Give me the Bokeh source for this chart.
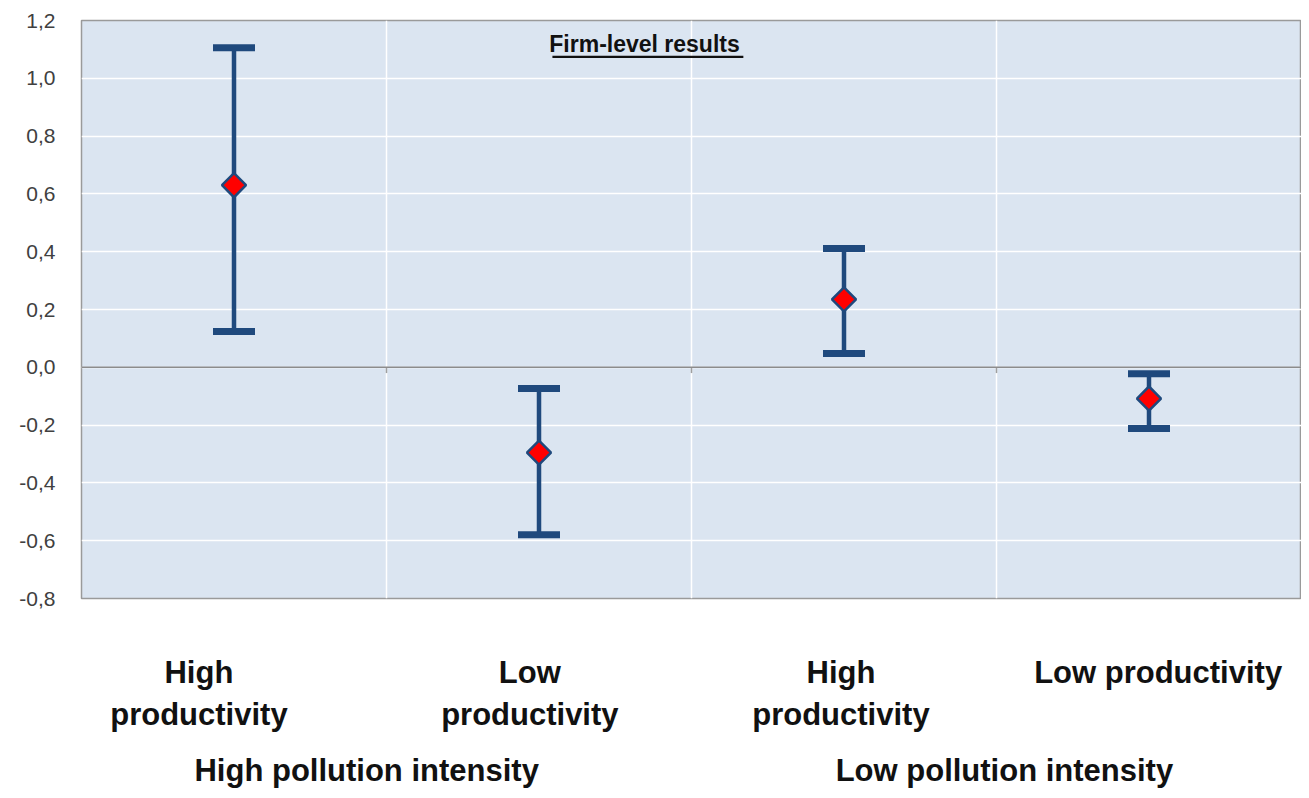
from bokeh.plotting import figure
from bokeh.models import (ColumnDataSource, FixedTicker, CustomJSTickFormatter, Span,
                          Label, BoxAnnotation, LinearAxis)
from bokeh.embed import file_html
from bokeh.resources import INLINE
import math

# ---- data ----
categories = ["High\nproductivity", "Low\nproductivity", "High\nproductivity", "Low productivity"]
groups = ["High pollution intensity", "Low pollution intensity"]
estimates = [0.63, -0.295, 0.235, -0.108]
lower = [0.124, -0.579, 0.048, -0.212]
upper = [1.106, -0.073, 0.411, -0.022]
y_ticks = [-0.8, -0.6, -0.4, -0.2, 0.0, 0.2, 0.4, 0.6, 0.8, 1.0, 1.2]
title_text = "Firm-level results"

# ---- styling ----
BLUE = "#1f497d"
BG = "#dbe5f1"
xs = [i + 0.5 for i in range(len(categories))]

p = figure(width=1301, height=790, x_range=(0, 4), y_range=(-0.8, 1.2),
           output_backend="svg", toolbar_location=None,
           min_border_left=81, min_border_right=0, min_border_top=20, min_border_bottom=0)
p.background_fill_color = BG
p.border_fill_color = "white"
p.outline_line_color = "#9a9a9a"
p.outline_line_width = 1.5

# y axis
p.yaxis.ticker = FixedTicker(ticks=y_ticks)
p.yaxis.formatter = CustomJSTickFormatter(code="return tick.toFixed(1).replace('.', ',');")
p.yaxis.major_label_text_font = "Liberation Sans"
p.yaxis.major_label_text_font_size = "21px"
p.yaxis.major_label_text_color = "#404040"
p.yaxis.axis_line_color = None
p.yaxis.major_tick_line_color = None
p.yaxis.minor_tick_line_color = None
p.yaxis.major_label_standoff = 20

cat_font = "Liberation Sans"

# category axis (below)
cat_dx = [-0.115, -0.03, -0.01, 0.03]
cat_pos = [x + d for x, d in zip(xs, cat_dx)]
xa = p.xaxis[0]
xa.ticker = FixedTicker(ticks=cat_pos)
xa.major_label_overrides = {t: lab for t, lab in zip(cat_pos, categories)}
xa.major_label_text_font = cat_font
xa.major_label_text_font_style = "bold"
xa.major_label_text_font_size = "31px"
xa.major_label_text_color = "#111111"
xa.major_label_text_line_height = 1.22
xa.major_label_standoff = 50
xa.axis_line_color = None
xa.major_tick_line_color = None
xa.minor_tick_line_color = None

# group axis (below)
grp_pos = [0.935, 3.026]
ga = LinearAxis(ticker=FixedTicker(ticks=grp_pos),
                major_label_overrides={t: g for t, g in zip(grp_pos, groups)},
                major_label_text_font=cat_font, major_label_text_font_style="bold",
                major_label_text_font_size="31px", major_label_text_color="#111111",
                major_label_standoff=11, axis_line_color=None,
                major_tick_line_color=None, minor_tick_line_color=None)
p.add_layout(ga, "below")

# grids
p.ygrid.ticker = FixedTicker(ticks=y_ticks)
p.ygrid.grid_line_color = "white"
p.ygrid.grid_line_width = 1.5
p.xgrid.ticker = FixedTicker(ticks=[1, 2, 3])
p.xgrid.grid_line_color = "white"
p.xgrid.grid_line_width = 1.5

# zero line
p.add_layout(Span(location=0, dimension="width", line_color="#8c8c8c", line_width=1.5))
p.segment(x0=[1, 2, 3], y0=[0, 0, 0], x1=[1, 2, 3], y1=[-0.02, -0.02, -0.02],
          line_color="#a0a0a0", line_width=1.5)

src = ColumnDataSource(dict(x=xs, est=estimates, lo=lower, hi=upper))
# error bars
p.segment(x0="x", y0="lo", x1="x", y1="hi", source=src, line_color=BLUE, line_width=4.5)
p.rect(x="x", y="hi", width=42, height=7, width_units="screen", height_units="screen",
       source=src, fill_color=BLUE, line_color=None)
p.rect(x="x", y="lo", width=42, height=7, width_units="screen", height_units="screen",
       source=src, fill_color=BLUE, line_color=None)
# points
p.scatter(x="x", y="est", source=src, marker="square", size=17, angle=math.pi / 4,
          fill_color="#ff0000", line_color=BLUE, line_width=2.5)

# title with underline
p.add_layout(Label(x=1.846, y=1.117, text=title_text, text_font="Liberation Sans",
                   text_font_style="bold", text_font_size="23px", text_color="#111111",
                   text_align="center", text_baseline="middle"))
p.add_layout(BoxAnnotation(left=1.544, right=2.170, top=1.078, bottom=1.070,
                           fill_color="#111111", fill_alpha=1, line_color=None))

open("out.html", "w").write(file_html(p, INLINE))
